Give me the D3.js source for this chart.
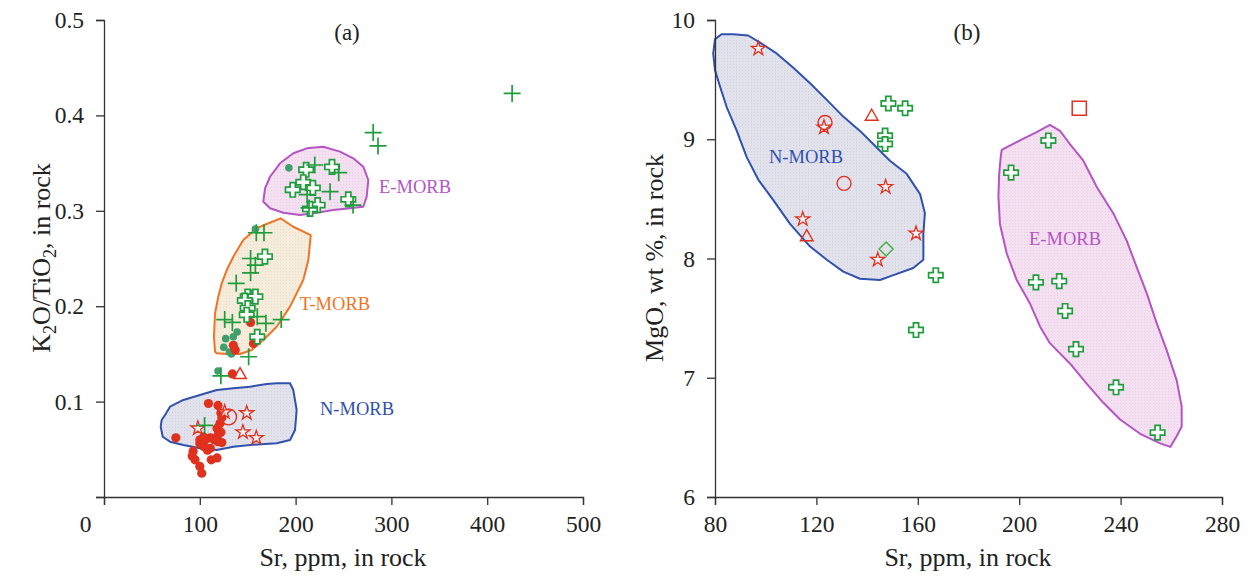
<!DOCTYPE html>
<html>
<head>
<meta charset="utf-8">
<script src="https://cdn.jsdelivr.net/npm/d3@7"></script>
<style>
  body { margin: 0; background: #fff; }
  text { font-family: "Liberation Serif", "Times New Roman", serif; }
</style>
</head>
<body>
<svg id="chart" width="1250" height="576"></svg>
<script>
// ---------- Panel (a): K2O/TiO2 vs Sr ----------
const aTicksX = [0, 100, 200, 300, 400, 500];
const aTicksY = [0, 0.1, 0.2, 0.3, 0.4, 0.5];

// thin green "+" samples [Sr, K2O/TiO2]
const aPlus = [
  [426, 0.423], [281, 0.382], [286, 0.368], [220, 0.348], [245, 0.340],
  [212, 0.317], [236, 0.320], [260, 0.306], [214, 0.303], [159, 0.277],
  [167, 0.277], [153, 0.250], [158, 0.243], [153, 0.235], [138, 0.224],
  [126, 0.186], [134, 0.183], [160, 0.189], [169, 0.182], [185, 0.186],
  [151, 0.147], [122, 0.127], [105, 0.075]
];
// open green cross samples
const aCross = [
  [168, 0.252], [150, 0.210], [158, 0.210], [147, 0.206], [150, 0.198],
  [149, 0.191], [160, 0.168],
  [211, 0.343], [238, 0.346], [208, 0.330], [197, 0.322], [218, 0.324],
  [255, 0.312], [223, 0.306], [215, 0.302]
];
// filled green dots
const aGreenDot = [
  [193, 0.345], [158, 0.281], [152, 0.214], [139, 0.173], [135, 0.168],
  [127, 0.166], [125, 0.157], [131, 0.152], [133, 0.150], [119, 0.132]
];
// filled red dots
const aRedDot = [
  [153, 0.183], [135, 0.159], [137, 0.154], [156, 0.161], [134, 0.129],
  [109, 0.098], [119, 0.096], [122, 0.088], [123, 0.083], [121, 0.077],
  [118, 0.072], [122, 0.068], [75, 0.062], [100, 0.060], [105, 0.059],
  [111, 0.062], [115, 0.060], [119, 0.058], [123, 0.057], [100, 0.056],
  [104, 0.053], [111, 0.051], [108, 0.049], [93, 0.048], [92, 0.043],
  [95, 0.039], [100, 0.032], [102, 0.025], [112, 0.039], [118, 0.041],
  [119, 0.065], [104, 0.063]
];
// red stars, open circle, triangle
const aStar = [[126, 0.089], [149, 0.088], [98, 0.072], [145, 0.068], [159, 0.062]];
const aCircle = [[130, 0.084]];
const aTriangle = [[142, 0.128]];

// field outlines
const aNMorb = [
  [63.7, 0.086], [68.9, 0.0947], [82.8, 0.1017], [100.2, 0.1069], [117.6, 0.1122],
  [135, 0.1139], [152.4, 0.1156], [169.8, 0.1184], [180.3, 0.1192], [194.2, 0.1192],
  [197.6, 0.1122], [201.1, 0.0912], [199.4, 0.0702], [194.2, 0.0597], [180.3, 0.0563],
  [152.4, 0.0545], [135, 0.0527], [117.6, 0.0493], [100.2, 0.051], [82.8, 0.0545],
  [68.9, 0.058], [61.3, 0.0632], [59.2, 0.0737], [60.2, 0.0807]
];
const aTMorb = [
  [115.9, 0.1523], [114.8, 0.168], [115.9, 0.1926], [119.3, 0.21], [122.9, 0.224],
  [128.1, 0.2379], [135, 0.2519], [145.4, 0.2694], [159.4, 0.2817], [169.8, 0.2862],
  [184.4, 0.2921], [197.6, 0.2833], [215.8, 0.2746], [213.3, 0.2484], [208, 0.2275],
  [194.2, 0.1995], [180.3, 0.1785], [166.3, 0.1646], [154.2, 0.1541], [142, 0.1499],
  [128.1, 0.1499], [117.6, 0.1506]
];
const aEMorb = [
  [166.3, 0.3095], [168.1, 0.3236], [173.3, 0.3357], [183.7, 0.3498], [197.6, 0.3603],
  [211.6, 0.3655], [228.9, 0.3672], [246.3, 0.362], [260.2, 0.355], [270.7, 0.3462],
  [275.9, 0.3323], [274.2, 0.3148], [270.7, 0.3043], [256.8, 0.3026], [239.4, 0.3008],
  [222, 0.298], [204.6, 0.2956], [187.2, 0.298], [173.3, 0.3026]
];

// ---------- Panel (b): MgO vs Sr ----------
const bTicksX = [80, 120, 160, 200, 240, 280];
const bTicksY = [6, 7, 8, 9, 10];

const bStar = [[97.1, 9.76], [123, 9.10], [147.3, 8.60], [114.6, 8.33], [159.3, 8.21], [144.2, 7.99]];
const bCircle = [[123.4, 9.14], [130.9, 8.63]];
const bTriangle = [[141.8, 9.19], [116.2, 8.18]];
const bCross = [
  [148.4, 9.30], [155, 9.26], [147.1, 9.03], [147.1, 8.96], [167.1, 7.86], [159.3, 7.40],
  [211.5, 8.99], [196.8, 8.72], [206.6, 7.80], [215.8, 7.81], [218.1, 7.56],
  [222.4, 7.24], [238.2, 6.92], [254.6, 6.54]
];
const bDiamond = [[147.5, 8.08]];
const bSquare = [[223.7, 9.26]];

const bNMorb = [
  [80, 9.84], [82.6, 9.88], [87.2, 9.88], [93.1, 9.87], [97.8, 9.81], [104.3, 9.72],
  [110.9, 9.6], [117.5, 9.47], [124.1, 9.33], [130.6, 9.19], [137.2, 9.07], [142.4, 8.96],
  [149, 8.82], [155.6, 8.71], [160.9, 8.54], [162.8, 8.38], [162.2, 8.21], [162.2, 7.99],
  [158.2, 7.92], [149, 7.85], [145.1, 7.82], [137.2, 7.83], [130.6, 7.89], [124.1, 7.99],
  [117.5, 8.1], [109.6, 8.29], [103, 8.49], [97.1, 8.66], [92.5, 8.85], [88.6, 9.07],
  [84.6, 9.27], [82, 9.44], [80, 9.58], [79.3, 9.72]
];
const bEMorb = [
  [193.1, 8.91], [200.3, 8.99], [206.9, 9.06], [212.1, 9.12], [216.1, 9.07], [220, 8.96],
  [225.3, 8.82], [230.6, 8.6], [237.1, 8.38], [242.4, 8.15], [246.3, 7.93], [250.3, 7.71],
  [254.2, 7.46], [258.2, 7.23], [262.1, 6.98], [264.1, 6.76], [264.1, 6.59], [262.1, 6.51],
  [259.6, 6.42], [255.6, 6.45], [247.7, 6.53], [239.8, 6.65], [233.2, 6.79], [226.6, 6.95],
  [220, 7.12], [212.1, 7.29], [208.2, 7.43], [204.3, 7.62], [199, 7.82], [195.1, 8.04],
  [192.4, 8.29], [191.8, 8.52], [192.1, 8.71], [192.7, 8.85]
];

// ---------- styles ----------
const C = {
  green: "#1f9d3c",
  greenDot: "#3f9f6c",
  red: "#e0301e",
  blue: "#3051ad",
  orange: "#f07426",
  purple: "#b455c4",
  fillN: "#e2e2ec",
  fillT: "#f6ecdc",
  fillE: "#f4e0f1",
  axis: "#333"
};

const svg = d3.select("#chart");

// stipple patterns for the compositional fields
function stipple(id, bg, dot) {
  const p = svg.append("defs").append("pattern")
    .attr("id", id).attr("width", 3).attr("height", 3)
    .attr("patternUnits", "userSpaceOnUse");
  p.append("rect").attr("width", 3).attr("height", 3).attr("fill", bg);
  p.append("rect").attr("x", 1).attr("y", 1).attr("width", 1).attr("height", 1).attr("fill", dot);
}
stipple("patN", C.fillN, "#d2d2de");
stipple("patT", C.fillT, "#eadfca");
stipple("patE", C.fillE, "#ead0e6");

// marker shapes
const plusPath = s => `M${-s},0H${s}M0,${-s}V${s}`;
const crossPath = (a, b) =>
  `M${-a},${-b}H${a}V${-a}H${b}V${a}H${a}V${b}H${-a}V${a}H${-b}V${-a}H${-a}Z`;
const diamondPath = s => `M0,${-s}L${s},0L0,${s}L${-s},0Z`;
const starSym = d3.symbol(d3.symbolStar, 62);
const triSym = d3.symbol(d3.symbolTriangle, 70);
const squareSym = d3.symbol(d3.symbolSquare, 200);

function drawPanel(cfg) {
  const g = svg.append("g");
  const { x, y } = cfg;
  const line = d3.line().x(d => x(d[0])).y(d => y(d[1])).curve(d3.curveLinearClosed);

  // fields
  cfg.fields.forEach(f => {
    g.append("path").attr("d", line(f.pts))
      .attr("fill", `url(#${f.pat})`).attr("stroke", f.stroke)
      .attr("stroke-width", 2).attr("stroke-linejoin", "round");
  });

  // axes
  const ax = g.append("g").attr("transform", `translate(0,${y.range()[0]})`)
    .call(d3.axisBottom(x).tickValues(cfg.ticksX).tickSizeOuter(0).tickSize(8).tickPadding(10)
      .tickFormat(d3.format("d")));
  const ay = g.append("g").attr("transform", `translate(${x.range()[0]},0)`)
    .call(d3.axisLeft(y).tickValues(cfg.ticksY).tickSizeOuter(0).tickSize(8).tickPadding(12)
      .tickFormat(cfg.fmtY));
  [ax, ay].forEach(a => {
    a.select(".domain").attr("stroke", C.axis).attr("stroke-width", 1.3);
    a.selectAll(".tick line").attr("stroke", C.axis).attr("stroke-width", 1.3);
    a.selectAll(".tick text").attr("fill", "#222").attr("font-size", 23.5)
      .style("font-family", '"Liberation Serif", serif');
  });
  if (cfg.afterAxes) cfg.afterAxes(ax, ay);

  // markers
  const mk = g.append("g");
  const put = (data, sel) => mk.selectAll(null).data(data).enter().append(sel)
    .attr("transform", d => `translate(${x(d[0])},${y(d[1])})`);

  if (cfg.greenDot) put(cfg.greenDot, "circle").attr("r", 3.8).attr("fill", C.greenDot);
  if (cfg.redDot) put(cfg.redDot, "circle").attr("r", 4.6).attr("fill", C.red);
  if (cfg.star) put(cfg.star, "path").attr("d", starSym()).attr("fill", "#fff").attr("fill-opacity", 0.6)
    .attr("stroke", C.red).attr("stroke-width", 1.3);
  if (cfg.circle) put(cfg.circle, "circle").attr("r", cfg.circleR).attr("fill", "none")
    .attr("stroke", C.red).attr("stroke-width", 1.4);
  if (cfg.triangle) put(cfg.triangle, "path").attr("d", triSym()).attr("fill", "none")
    .attr("stroke", C.red).attr("stroke-width", 1.4);
  if (cfg.square) put(cfg.square, "path").attr("d", squareSym()).attr("fill", "#fff")
    .attr("stroke", C.red).attr("stroke-width", 1.5);
  if (cfg.diamond) put(cfg.diamond, "path").attr("d", diamondPath(7)).attr("fill", "none")
    .attr("stroke", "#3fb03a").attr("stroke-width", 1.4);
  if (cfg.cross) put(cfg.cross, "path").attr("d", crossPath(2.6, 7.2)).attr("fill", "#fff")
    .attr("stroke", C.green).attr("stroke-width", 1.7);
  if (cfg.plus) put(cfg.plus, "path").attr("d", plusPath(8.5)).attr("fill", "none")
    .attr("stroke", C.green).attr("stroke-width", 1.7);

  // labels
  cfg.labels.forEach(l => {
    g.append("text").attr("x", l.x).attr("y", l.y).attr("text-anchor", "middle")
      .attr("font-size", l.size).attr("fill", l.color).text(l.text);
  });
  return g;
}

// panel (a)
const xA = d3.scaleLinear().domain([0, 500]).range([104, 583]);
const yA = d3.scaleLinear().domain([0, 0.5]).range([497, 20]);
drawPanel({
  x: xA, y: yA, ticksX: aTicksX, ticksY: aTicksY,
  fmtY: d => d === 0 ? "" : d3.format(".1f")(d),
  fields: [
    { pts: aNMorb, pat: "patN", stroke: C.blue },
    { pts: aTMorb, pat: "patT", stroke: C.orange },
    { pts: aEMorb, pat: "patE", stroke: C.purple }
  ],
  afterAxes: (ax) => {
    ax.selectAll(".tick").filter(d => d === 0).select("text").attr("x", -19);
  },
  greenDot: aGreenDot, redDot: aRedDot, star: aStar, circle: aCircle, circleR: 8,
  triangle: aTriangle, cross: aCross, plus: aPlus,
  labels: [
    { text: "(a)", x: 347, y: 40, size: 23, color: "#222" },
    { text: "E-MORB", x: 415, y: 193, size: 18.5, color: C.purple },
    { text: "T-MORB", x: 335, y: 310, size: 18.5, color: C.orange },
    { text: "N-MORB", x: 357, y: 415, size: 18.5, color: C.blue }
  ]
});

// axis titles (a)
svg.append("text").attr("x", 343).attr("y", 566).attr("text-anchor", "middle")
  .attr("font-size", 26).attr("fill", "#222").text("Sr, ppm, in rock");
const tA = svg.append("text").attr("transform", "translate(50,258) rotate(-90)")
  .attr("text-anchor", "middle").attr("font-size", 26).attr("fill", "#222");
tA.append("tspan").text("K");
tA.append("tspan").attr("font-size", 18).attr("dy", 6).text("2");
tA.append("tspan").attr("dy", -6).text("O/TiO");
tA.append("tspan").attr("font-size", 18).attr("dy", 6).text("2");
tA.append("tspan").attr("dy", -6).text(", in rock");

// panel (b)
const xB = d3.scaleLinear().domain([80, 280]).range([715, 1222]);
const yB = d3.scaleLinear().domain([6, 10]).range([497, 20]);
drawPanel({
  x: xB, y: yB, ticksX: bTicksX, ticksY: bTicksY,
  fmtY: d3.format("d"),
  fields: [
    { pts: bNMorb, pat: "patN", stroke: C.blue },
    { pts: bEMorb, pat: "patE", stroke: C.purple }
  ],
  star: bStar, circle: bCircle, circleR: 7, triangle: bTriangle,
  square: bSquare, diamond: bDiamond, cross: bCross,
  labels: [
    { text: "(b)", x: 967, y: 40, size: 23, color: "#222" },
    { text: "N-MORB", x: 806, y: 163, size: 18.5, color: C.blue },
    { text: "E-MORB", x: 1065, y: 245, size: 18.5, color: C.purple }
  ]
});

svg.append("text").attr("x", 968).attr("y", 566).attr("text-anchor", "middle")
  .attr("font-size", 26).attr("fill", "#222").text("Sr, ppm, in rock");
svg.append("text").attr("transform", "translate(663,258) rotate(-90)")
  .attr("text-anchor", "middle").attr("font-size", 26).attr("fill", "#222")
  .text("MgO, wt %, in rock");
</script>
</body>
</html>
